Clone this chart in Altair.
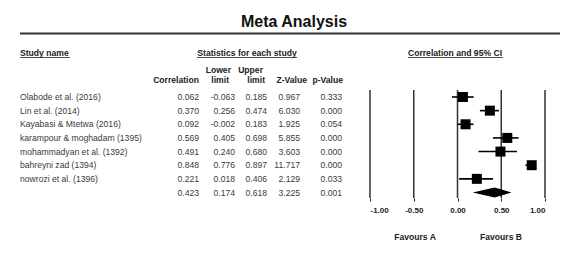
import altair as alt
import pandas as pd

studies = ["Olabode et al. (2016)", "Lin et al. (2014)", "Kayabasi & Mtetwa (2016)",
           "karampour & moghadam (1395)", "mohammadyan et al. (1392)",
           "bahreyni zad (1394)", "nowrozi et al. (1396)", ""]
correlation = [0.062, 0.370, 0.092, 0.569, 0.491, 0.848, 0.221, 0.423]
lower = [-0.063, 0.256, -0.002, 0.405, 0.240, 0.776, 0.018, 0.174]
upper = [0.185, 0.474, 0.183, 0.698, 0.680, 0.897, 0.406, 0.618]
z_value = [0.967, 6.030, 1.925, 5.855, 3.603, 11.717, 2.129, 3.225]
p_value = [0.333, 0.000, 0.054, 0.000, 0.000, 0.000, 0.033, 0.001]
axis_ticks = [-1.0, -0.5, 0.0, 0.5, 1.0]

FONT = "Liberation Sans"
FS = 8.6
TXT = "#3a3a3a"
DARK = "#222222"

df = pd.DataFrame({
    "row": list(range(len(studies))),
    "study": studies,
    "corr": correlation,
    "lower": lower,
    "upper": upper,
    "z": z_value,
    "p": p_value,
})
for col in ["corr", "lower", "upper", "z", "p"]:
    df[col + "_s"] = [f"{v:.3f}" for v in df[col]]

studies_df = df.iloc[:-1]
summary = df.iloc[-1]
diamond = pd.DataFrame({
    "x": [summary["lower"], summary["corr"], summary["upper"]],
    "y": [summary["row"], summary["row"] - 0.37, summary["row"]],
    "y2": [summary["row"], summary["row"] + 0.37, summary["row"]],
})
ticks_df = pd.DataFrame({"t": axis_ticks})

xscale = alt.Scale(domain=[-1, 1], range=[362, 537], nice=False, zero=False)
yscale = alt.Scale(domain=[0, 7], range=[89, 184.5], nice=False, zero=False)
xaxis = alt.Axis(values=axis_ticks, format=".2f", title=None, grid=False, domain=False,
                 tickSize=3, tickColor=DARK, labelPadding=5, labelFont=FONT,
                 labelFontSize=8, labelFontWeight="bold", labelColor=DARK,
                 labelExpr="replace(datum.label, '\u2212', '-')")


def X(field):
    return alt.X(field, type="quantitative", scale=xscale, axis=xaxis)


def Y(field):
    return alt.Y(field, type="quantitative", scale=yscale, axis=None)


def one(text):
    return alt.Data(values=[{"t": text}])


def label(text, x, y, size=FS, weight="normal", align="left", color=DARK):
    return alt.Chart(one(text)).mark_text(
        font=FONT, fontSize=size, fontWeight=weight, align=align, baseline="middle", color=color
    ).encode(x=alt.value(x), y=alt.value(y), text="t:N")


def hline(x1, x2, y, width=1.0, color=DARK):
    return alt.Chart(one("")).mark_rule(strokeWidth=width, color=color).encode(
        x=alt.value(x1), x2=alt.value(x2), y=alt.value(y))


layers = []
# Title and rule
layers.append(label("Meta Analysis", 286, 14, size=16, weight="bold", align="center", color="#111"))
layers.append(hline(12, 552, 25.5, width=2, color="#333"))
# Section headers (underlined)
layers.append(label("Study name", 12, 45, weight="bold"))
layers.append(hline(12, 62, 49.5, width=0.8))
layers.append(label("Statistics for each study", 239, 45, weight="bold", align="center"))
layers.append(hline(189, 289, 49.5, width=0.8))
layers.append(label("Correlation and 95% CI", 447, 45, weight="bold", align="center"))
layers.append(hline(400, 495, 49.5, width=0.8))
# Column headers
layers.append(label("Correlation", 191, 72, weight="bold", align="right"))
layers.append(label("Lower", 223, 62, weight="bold", align="right"))
layers.append(label("limit", 221, 72, weight="bold", align="right"))
layers.append(label("Upper", 255, 62, weight="bold", align="right"))
layers.append(label("limit", 257, 72, weight="bold", align="right"))
layers.append(label("Z-Value", 299, 72, weight="bold", align="right"))
layers.append(label("p-Value", 335, 72, weight="bold", align="right"))

base = alt.Chart(df)
layers.append(base.mark_text(font=FONT, fontSize=FS, align="left", baseline="middle", color=TXT)
              .encode(x=alt.value(12), y=Y("row"), text="study:N"))
for field, xr in [("corr", 191), ("lower", 227), ("upper", 259), ("z", 292), ("p", 334)]:
    layers.append(base.mark_text(font=FONT, fontSize=FS, align="right", baseline="middle", color=TXT)
                  .encode(x=alt.value(xr), y=Y("row"), text=f"{field}_s:N"))

# Vertical reference lines
layers.append(alt.Chart(ticks_df).mark_rule(strokeWidth=1.5, color="#333")
              .encode(x=X("t"), y=alt.value(82), y2=alt.value(190)))
# CI lines and squares
sb = alt.Chart(studies_df)
layers.append(sb.mark_rule(strokeWidth=1.6, color="black")
              .encode(x=X("lower"), x2="upper", y=Y("row")))
layers.append(sb.mark_square(size=100, color="black", opacity=1, filled=True)
              .encode(x=X("corr"), y=Y("row")))
# Summary diamond
layers.append(alt.Chart(diamond).mark_area(color="black", opacity=1)
              .encode(x=X("x"), y=alt.Y("y:Q", scale=yscale, axis=None, stack=None), y2="y2:Q"))
# Favours labels
layers.append(label("Favours A", 407, 229, weight="bold", align="center"))
layers.append(label("Favours B", 493, 229, weight="bold", align="center"))

chart = alt.layer(*layers).properties(
    width=554, height=190,
    autosize=alt.AutoSizeParams(type="none"),
    padding={"left": 0, "top": 0, "right": 0, "bottom": 54},
    background="white",
).configure_view(stroke=None)

chart.save("out.html", embed_options={"renderer": "svg", "actions": False})
